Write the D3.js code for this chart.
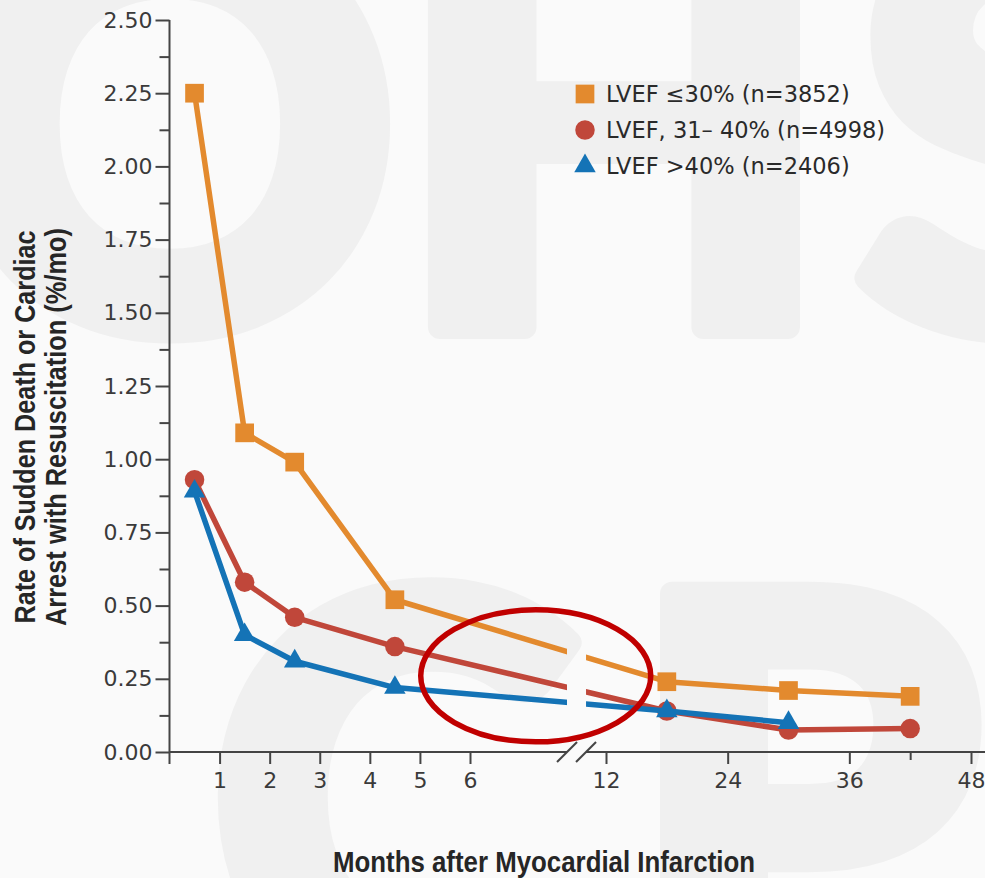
<!DOCTYPE html>
<html lang="en">
<head>
  <meta charset="UTF-8">
  <title>Sudden Death after Myocardial Infarction by LVEF</title>
  <script src="https://d3js.org/d3.v7.min.js"></script>
  <style>
    html, body {
      margin: 0;
      padding: 0;
      background: #fafafa;
    }
    svg { display: block; }
    .axis .tick text {
      font-family: "DejaVu Sans", sans-serif;
      font-size: 22px;
      fill: #3a3a3a;
    }
    .axis .tick line, .axis-line {
      stroke: #444;
      stroke-width: 2;
    }
    .title {
      font-family: "Liberation Sans", Arial, sans-serif;
      font-weight: bold;
      fill: #262626;
    }
    .legend text {
      font-family: "DejaVu Sans", sans-serif;
      font-size: 22.5px;
      fill: #2a2a2a;
    }
    .watermark {
      font-family: Lato, "DejaVu Sans", sans-serif;
      font-weight: 900;
      font-size: 560px;
      fill: #f0f0f0;
      stroke: #f0f0f0;
      stroke-width: 24;
      stroke-linejoin: round;
    }
  </style>
</head>
<body>
  <div id="chart"></div>

  <script>
    // values (rate, %/mo)
    const months = [0.5, 1.5, 2.5, 4.5, 18, 30, 42];
    const lvefLow = [2.25, 1.09, 0.99, 0.52, 0.24, 0.21, 0.19];
    const lvefMid = [0.93, 0.58, 0.46, 0.36, 0.14, 0.075, 0.08];
    const lvefHigh = [0.89, 0.40, 0.31, 0.22, 0.14, 0.10];

    const seriesLabels = ["LVEF \u226430% (n=3852)", "LVEF, 31\u2013 40% (n=4998)", "LVEF >40% (n=2406)"];
    const seriesColors = ["#e38a2e", "#c0473a", "#1473b6"];
    const seriesSymbols = [d3.symbolSquare, d3.symbolCircle, d3.symbolTriangle];
    const symbolSizes = [350, 300, 200];

    const xTickValues = [1, 2, 3, 4, 5, 6, 12, 24, 36, 48];
    const xMinorTicks = [42];
    const yTickValues = [0, 0.25, 0.5, 0.75, 1, 1.25, 1.5, 1.75, 2, 2.25, 2.5];
    const breakMonth = 10.7; // axis break between 6 and 12 months

    const width = 985, height = 878;

    const svg = d3.select("#chart").append("svg")
      .attr("width", width)
      .attr("height", height);

    // faint watermark letters behind the chart
    const marks = [
      { ch: "O", x: 170, y: 327 }, { ch: "H", x: 614, y: 327 }, { ch: "S", x: 1010, y: 327 },
      { ch: "C", x: 395, y: 1000 }, { ch: "P", x: 805, y: 1000 }
    ];
    svg.append("g").selectAll("text")
      .data(marks)
      .enter().append("text")
      .attr("class", "watermark")
      .attr("x", d => d.x)
      .attr("y", d => d.y)
      .attr("text-anchor", "middle")
      .text(d => d.ch);

    // scales: piecewise x to get the broken month axis
    const x = d3.scaleLinear()
      .domain([0, 6, 12, 48])
      .range([169.5, 470, 606, 971]);

    const y = d3.scaleLinear()
      .domain([0, 2.5])
      .range([752, 20]);

    const bx = x(breakMonth);
    const gap = 9.5;

    // Y axis with minor ticks halfway between the labelled ones
    const yMinor = yTickValues.slice(1).map((v, i) => (v + yTickValues[i]) / 2);
    const yAxis = svg.append("g")
      .attr("class", "axis")
      .attr("transform", `translate(${x(0)},0)`)
      .call(d3.axisLeft(y)
        .tickValues(yTickValues.concat(yMinor))
        .tickSize(14)
        .tickPadding(3)
        .tickFormat(d => yTickValues.includes(d) ? d3.format(".2f")(d) : ""));
    yAxis.select(".domain").remove();
    yAxis.selectAll(".tick line")
      .filter(d => !yTickValues.includes(d))
      .attr("x2", -10);

    svg.append("line")
      .attr("class", "axis-line")
      .attr("x1", x(0)).attr("x2", x(0))
      .attr("y1", y(2.5)).attr("y2", y(0) + 12);

    // X axis
    const xAxis = svg.append("g")
      .attr("class", "axis")
      .attr("transform", `translate(0,${y(0)})`)
      .call(d3.axisBottom(x)
        .tickValues(xTickValues.concat(xMinorTicks))
        .tickSize(12)
        .tickPadding(8)
        .tickFormat(d => xTickValues.includes(d) ? d : ""));
    xAxis.select(".domain").remove();
    xAxis.selectAll(".tick line")
      .filter(d => xMinorTicks.includes(d))
      .attr("y2", 8);

    svg.append("line")
      .attr("class", "axis-line")
      .attr("x1", x(0)).attr("x2", bx - gap)
      .attr("y1", y(0)).attr("y2", y(0));
    svg.append("line")
      .attr("class", "axis-line")
      .attr("x1", bx + gap).attr("x2", width)
      .attr("y1", y(0)).attr("y2", y(0));

    // break slashes
    svg.selectAll(".slash")
      .data([bx - gap, bx + gap])
      .enter().append("line")
      .attr("class", "axis-line slash")
      .attr("x1", d => d - 10).attr("y1", y(0) + 10)
      .attr("x2", d => d + 10).attr("y2", y(0) - 10);

    // clip that opens a gap in the lines at the break
    const clip = svg.append("clipPath").attr("id", "break-clip");
    clip.append("rect").attr("x", 0).attr("y", 0).attr("width", bx - gap).attr("height", height);
    clip.append("rect").attr("x", bx + gap).attr("y", 0).attr("width", width - bx - gap).attr("height", height);

    const series = [lvefLow, lvefMid, lvefHigh].map((vals, i) => ({
      name: seriesLabels[i],
      color: seriesColors[i],
      symbol: seriesSymbols[i],
      size: symbolSizes[i],
      points: vals.map((v, j) => ({ m: months[j], v: v }))
    }));

    const line = d3.line()
      .x(d => x(d.m))
      .y(d => y(d.v));

    const plot = svg.append("g");

    series.forEach(s => {
      plot.append("path")
        .datum(s.points)
        .attr("clip-path", "url(#break-clip)")
        .attr("fill", "none")
        .attr("stroke", s.color)
        .attr("stroke-width", 5.5)
        .attr("stroke-linejoin", "round")
        .attr("d", line);

      plot.selectAll(null)
        .data(s.points)
        .enter().append("path")
        .attr("transform", d => `translate(${x(d.m)},${y(d.v)})`)
        .attr("fill", s.color)
        .attr("d", d3.symbol().type(s.symbol).size(s.size));
    });

    // red annotation ellipse
    svg.append("ellipse")
      .attr("cx", x(8.9))
      .attr("cy", y(0.26))
      .attr("rx", 115)
      .attr("ry", 66)
      .attr("fill", "none")
      .attr("stroke", "#c00000")
      .attr("stroke-width", 5.5);

    // legend
    const legend = svg.append("g")
      .attr("class", "legend")
      .attr("transform", "translate(585,94)");

    const rows = legend.selectAll("g")
      .data(series)
      .enter().append("g")
      .attr("transform", (d, i) => `translate(0,${i * 36})`);

    rows.append("path")
      .attr("fill", d => d.color)
      .attr("d", d => d3.symbol().type(d.symbol).size(d.size)());

    rows.append("text")
      .attr("x", 21)
      .attr("y", 8)
      .text(d => d.name);

    // axis titles
    svg.append("text")
      .attr("class", "title")
      .attr("x", 544)
      .attr("y", 872)
      .attr("text-anchor", "middle")
      .style("font-size", "29px")
      .attr("textLength", 422)
      .attr("lengthAdjust", "spacingAndGlyphs")
      .text("Months after Myocardial Infarction");

    const yTitle = svg.append("g")
      .attr("transform", "translate(0,427) rotate(-90)");
    yTitle.append("text")
      .attr("class", "title")
      .attr("x", 0)
      .attr("y", 35)
      .attr("text-anchor", "middle")
      .style("font-size", "30px")
      .attr("textLength", 393)
      .attr("lengthAdjust", "spacingAndGlyphs")
      .text("Rate of Sudden Death or Cardiac");
    yTitle.append("text")
      .attr("class", "title")
      .attr("x", 0)
      .attr("y", 66)
      .attr("text-anchor", "middle")
      .style("font-size", "30px")
      .attr("textLength", 398)
      .attr("lengthAdjust", "spacingAndGlyphs")
      .text("Arrest with Resuscitation (%/mo)");
  </script>
</body>
</html>
